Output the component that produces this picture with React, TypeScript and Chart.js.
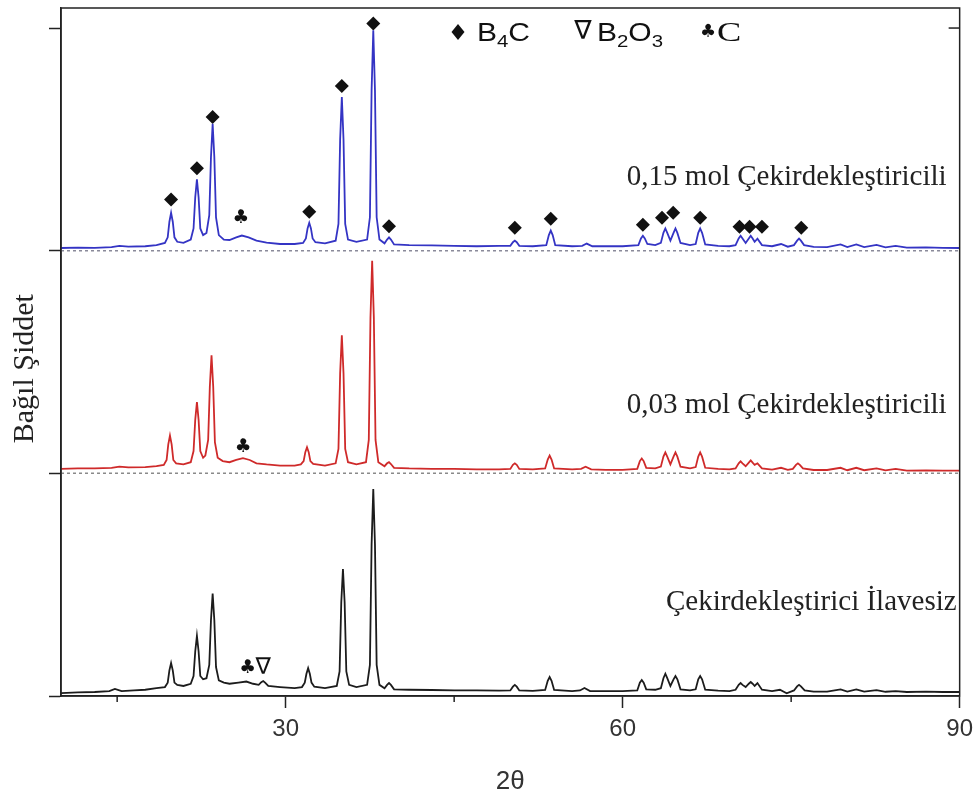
import React, { useEffect, useRef } from "react";
import { Chart, registerables } from "chart.js";
Chart.register(...registerables);

// ---- axis ticks ----
const X_TICKS = [15, 30, 45, 60, 75, 90];
const X_LABELED = [30, 60, 90];
const Y_TICKS = [0, 1, 2, 3];

// ---- vertical offsets of the stacked patterns ----
const OFFSET_BLACK = 0;
const OFFSET_RED = 1;
const OFFSET_BLUE = 2;

// ---- XRD patterns: [2θ, relative intensity above own baseline] ----
const blueSeries: [number, number][] = [
  [10, 0.012], [11.5, 0.014], [13, 0.013], [14.5, 0.016], [15.2, 0.022], [16, 0.018], [17.5, 0.02], [18.5, 0.025],
  [19.25, 0.035], [19.5, 0.06], [19.65, 0.13], [19.8, 0.17], [19.95, 0.13], [20.1, 0.06], [20.35, 0.04],
  [20.9, 0.035], [21.55, 0.05], [21.8, 0.1], [21.95, 0.24], [22.1, 0.32], [22.25, 0.24], [22.4, 0.1], [22.65, 0.07],
  [22.95, 0.08], [23.2, 0.16], [23.35, 0.42], [23.5, 0.57], [23.65, 0.42], [23.8, 0.15], [24.05, 0.07],
  [24.5, 0.05], [25.0, 0.048], [25.6, 0.06], [26.1, 0.068], [26.7, 0.06], [27.4, 0.045], [28.3, 0.036], [29.5, 0.03], [30.8, 0.03],
  [31.55, 0.035], [31.8, 0.055], [31.95, 0.1], [32.1, 0.125], [32.25, 0.1], [32.4, 0.055], [32.65, 0.038],
  [33.5, 0.033], [34.45, 0.045], [34.7, 0.12], [34.85, 0.5], [35.0, 0.69], [35.15, 0.5], [35.3, 0.12], [35.55, 0.05],
  [36.3, 0.04], [37.25, 0.05], [37.5, 0.15], [37.65, 0.72], [37.8, 0.99], [37.95, 0.72], [38.1, 0.15], [38.35, 0.05],
  [38.8, 0.033], [39.03, 0.05], [39.2, 0.06], [39.37, 0.05], [39.65, 0.028],
  [41, 0.025], [43, 0.024], [45, 0.022], [47, 0.02], [49, 0.022],
  [50.0, 0.022], [50.23, 0.038], [50.4, 0.045], [50.57, 0.038], [50.8, 0.022],
  [52, 0.02], [53.2, 0.025], [53.43, 0.07], [53.6, 0.09], [53.77, 0.07], [54.0, 0.025],
  [55.5, 0.02], [56.4, 0.022], [56.8, 0.032], [57.3, 0.02], [58.5, 0.02], [60, 0.02],
  [61.4, 0.025], [61.63, 0.055], [61.8, 0.067], [61.97, 0.055], [62.2, 0.03],
  [62.9, 0.025], [63.4, 0.035], [63.63, 0.08], [63.8, 0.1], [63.97, 0.08], [64.25, 0.045], [64.53, 0.08], [64.7, 0.1], [64.87, 0.08], [65.15, 0.035],
  [66.0, 0.025], [66.5, 0.03], [66.73, 0.08], [66.9, 0.1], [67.07, 0.08], [67.35, 0.028],
  [68.5, 0.022], [69.5, 0.02], [70.05, 0.025], [70.33, 0.055], [70.5, 0.067], [70.67, 0.055], [70.95, 0.035], [71.23, 0.055], [71.4, 0.067], [71.57, 0.055], [71.75, 0.04], [72.0, 0.054], [72.4, 0.025],
  [73.3, 0.02], [74.1, 0.03], [74.7, 0.018], [75.25, 0.025], [75.53, 0.045], [75.7, 0.054], [75.87, 0.045], [76.15, 0.025],
  [77, 0.017], [78.2, 0.016], [79.4, 0.028], [80, 0.016], [80.8, 0.028], [81.5, 0.016], [82.6, 0.026], [83.4, 0.015], [84.3, 0.022], [85.3, 0.014], [87, 0.015], [88.5, 0.013], [90, 0.012],
];

const redSeries: [number, number][] = [
  [10, 0.02], [11.5, 0.022], [13, 0.022], [14.5, 0.025], [15.2, 0.03], [16, 0.027], [17.5, 0.028], [18.5, 0.032],
  [19.15, 0.038], [19.4, 0.06], [19.55, 0.13], [19.7, 0.17], [19.85, 0.13], [20.0, 0.06], [20.25, 0.045],
  [20.9, 0.04], [21.55, 0.05], [21.8, 0.1], [21.95, 0.24], [22.1, 0.32], [22.25, 0.24], [22.4, 0.1], [22.65, 0.07],
  [22.85, 0.08], [23.1, 0.15], [23.25, 0.39], [23.4, 0.53], [23.55, 0.39], [23.7, 0.14], [23.95, 0.07],
  [24.4, 0.055], [25.0, 0.05], [25.6, 0.06], [26.2, 0.068], [26.8, 0.06], [27.4, 0.045], [28.3, 0.04], [29.5, 0.035], [30.8, 0.035],
  [31.35, 0.04], [31.6, 0.055], [31.75, 0.095], [31.9, 0.117], [32.05, 0.095], [32.2, 0.055], [32.45, 0.042],
  [33.5, 0.035], [34.45, 0.045], [34.7, 0.11], [34.85, 0.45], [35.0, 0.62], [35.15, 0.45], [35.3, 0.11], [35.55, 0.05],
  [36.3, 0.04], [37.15, 0.05], [37.4, 0.15], [37.55, 0.7], [37.7, 0.955], [37.85, 0.7], [38.0, 0.15], [38.25, 0.05],
  [38.8, 0.032], [39.03, 0.045], [39.2, 0.05], [39.37, 0.042], [39.65, 0.025],
  [41, 0.022], [43, 0.02], [45, 0.02], [47, 0.018], [49, 0.018],
  [50.0, 0.02], [50.23, 0.038], [50.4, 0.045], [50.57, 0.038], [50.8, 0.02],
  [52, 0.018], [53.1, 0.022], [53.33, 0.062], [53.5, 0.08], [53.67, 0.062], [53.9, 0.022],
  [55.5, 0.018], [56.3, 0.02], [56.7, 0.03], [57.2, 0.018], [58.5, 0.016], [60, 0.016],
  [61.3, 0.02], [61.53, 0.055], [61.7, 0.067], [61.87, 0.055], [62.1, 0.025],
  [62.9, 0.022], [63.4, 0.03], [63.63, 0.075], [63.8, 0.094], [63.97, 0.075], [64.25, 0.04], [64.53, 0.075], [64.7, 0.094], [64.87, 0.075], [65.15, 0.03],
  [66.0, 0.022], [66.5, 0.028], [66.73, 0.075], [66.9, 0.094], [67.07, 0.075], [67.35, 0.025],
  [68.5, 0.02], [69.5, 0.018], [70.05, 0.022], [70.33, 0.045], [70.5, 0.054], [70.67, 0.045], [70.95, 0.032], [71.23, 0.048], [71.4, 0.058], [71.57, 0.048], [71.75, 0.038], [72.0, 0.045], [72.4, 0.022],
  [73.3, 0.017], [74.1, 0.025], [74.7, 0.016], [75.15, 0.02], [75.43, 0.038], [75.6, 0.045], [75.77, 0.038], [76.05, 0.022],
  [77, 0.015], [78.2, 0.015], [79.4, 0.025], [80, 0.014], [80.8, 0.025], [81.5, 0.014], [82.6, 0.022], [83.4, 0.013], [84.3, 0.02], [85.3, 0.012], [87, 0.013], [88.5, 0.012], [90, 0.012],
];

const blackSeries: [number, number][] = [
  [10, 0.013], [11.5, 0.016], [13, 0.018], [14.3, 0.022], [14.8, 0.032], [15.4, 0.022], [16.5, 0.025], [17.5, 0.028], [18.5, 0.035],
  [19.25, 0.04], [19.5, 0.06], [19.65, 0.115], [19.8, 0.148], [19.95, 0.115], [20.1, 0.06], [20.35, 0.05],
  [20.9, 0.045], [21.55, 0.055], [21.8, 0.09], [21.95, 0.2], [22.1, 0.27], [22.25, 0.2], [22.4, 0.09], [22.65, 0.075],
  [22.95, 0.08], [23.2, 0.14], [23.35, 0.34], [23.5, 0.46], [23.65, 0.34], [23.8, 0.13], [24.05, 0.07],
  [24.5, 0.06], [25.0, 0.055], [25.8, 0.06], [26.5, 0.065], [27.1, 0.055], [27.6, 0.05], [27.83, 0.062], [28.0, 0.067], [28.17, 0.06], [28.45, 0.045],
  [29.5, 0.04], [30.8, 0.035], [31.45, 0.04], [31.7, 0.06], [31.85, 0.1], [32.0, 0.125], [32.15, 0.1], [32.3, 0.06], [32.55, 0.042],
  [33.5, 0.035], [34.55, 0.045], [34.8, 0.11], [34.95, 0.42], [35.1, 0.57], [35.25, 0.42], [35.4, 0.11], [35.65, 0.05],
  [36.3, 0.04], [37.25, 0.05], [37.5, 0.14], [37.65, 0.68], [37.8, 0.93], [37.95, 0.68], [38.1, 0.14], [38.35, 0.05],
  [38.8, 0.035], [39.03, 0.05], [39.2, 0.058], [39.37, 0.05], [39.65, 0.03],
  [41, 0.028], [43, 0.027], [45, 0.025], [47, 0.025], [49, 0.024],
  [50.0, 0.025], [50.23, 0.042], [50.4, 0.05], [50.57, 0.042], [50.8, 0.025],
  [52, 0.023], [53.1, 0.027], [53.33, 0.068], [53.5, 0.085], [53.67, 0.068], [53.9, 0.027],
  [55.5, 0.022], [56.2, 0.025], [56.6, 0.036], [57.1, 0.022], [58.5, 0.022], [60, 0.022],
  [61.3, 0.025], [61.53, 0.06], [61.7, 0.072], [61.87, 0.06], [62.1, 0.03],
  [62.9, 0.028], [63.4, 0.035], [63.63, 0.08], [63.8, 0.1], [63.97, 0.08], [64.25, 0.045], [64.53, 0.075], [64.7, 0.09], [64.87, 0.075], [65.15, 0.03],
  [66.0, 0.025], [66.5, 0.03], [66.73, 0.075], [66.9, 0.09], [67.07, 0.075], [67.35, 0.028],
  [68.5, 0.024], [69.5, 0.022], [70.05, 0.028], [70.33, 0.05], [70.5, 0.058], [70.67, 0.05], [70.95, 0.04], [71.23, 0.055], [71.4, 0.063], [71.57, 0.055], [71.75, 0.045], [72.0, 0.058], [72.4, 0.028],
  [73.3, 0.022], [74.0, 0.028], [74.6, 0.012], [75.25, 0.025], [75.53, 0.043], [75.7, 0.05], [75.87, 0.043], [76.2, 0.025],
  [77, 0.02], [78.2, 0.02], [79.4, 0.03], [80, 0.02], [80.8, 0.03], [81.5, 0.02], [82.6, 0.026], [83.4, 0.019], [84.3, 0.022], [85.3, 0.018], [87, 0.02], [88.5, 0.018], [90, 0.018],
];

// ---- phase markers: [2θ, y] ----
const b4cMarkers: [number, number][] = [
  [19.8, 2.23], [22.1, 2.37], [23.5, 2.6], [32.1, 2.175], [35.0, 2.74], [37.8, 3.02], [39.2, 2.11],
  [50.4, 2.103], [53.6, 2.144], [61.8, 2.117], [63.5, 2.148], [64.5, 2.17], [66.9, 2.148],
  [70.4, 2.108], [71.3, 2.108], [72.4, 2.108], [75.9, 2.103],
];
const carbonMarkers: [number, number][] = [[26.0, 2.145], [26.2, 1.117], [26.6, 0.126]];
const b2o3Markers: [number, number][] = [[28.0, 0.126]];

// ---- texts ----
const SAMPLE_LABELS = ["0,15 mol Çekirdekleştiricili", "0,03 mol Çekirdekleştiricili", "Çekirdekleştirici İlavesiz"];
const X_TITLE = "2θ";
const Y_TITLE = "Bağıl Şiddet";

const toPoints = (s: [number, number][], off: number) => s.map(([x, y]) => ({ x, y: y + off }));

const decorPlugin = {
  id: "decor",
  afterDatasetsDraw(chart: any) {
    const { ctx, chartArea: a, scales } = chart;
    const xs = scales.x;
    const ys = scales.y;
    ctx.save();
    // frame
    ctx.strokeStyle = "#222";
    ctx.lineWidth = 1.5;
    ctx.strokeRect(a.left, a.top, a.right - a.left, a.bottom - a.top);
    // minor x ticks
    X_TICKS.filter((v) => !X_LABELED.includes(v)).forEach((v) => {
      const px = xs.getPixelForValue(v);
      ctx.beginPath();
      ctx.moveTo(px, a.bottom);
      ctx.lineTo(px, a.bottom + 6);
      ctx.stroke();
    });
    // right inward tick
    const py3 = ys.getPixelForValue(3);
    ctx.beginPath();
    ctx.moveTo(a.right - 11, py3);
    ctx.lineTo(a.right, py3);
    ctx.stroke();

    // y-axis title
    ctx.save();
    ctx.fillStyle = "#222";
    ctx.font = "30px 'Liberation Serif'";
    ctx.textAlign = "center";
    ctx.textBaseline = "middle";
    ctx.translate(25, ys.getPixelForValue(1.47));
    ctx.rotate(-Math.PI / 2);
    ctx.fillText(Y_TITLE, 0, 0);
    ctx.restore();

    // clubs / nabla annotations
    ctx.fillStyle = "#111";
    ctx.textAlign = "center";
    ctx.textBaseline = "middle";
    ctx.font = "19px 'DejaVu Sans'";
    carbonMarkers.forEach(([x, y]) => ctx.fillText("♣", xs.getPixelForValue(x), ys.getPixelForValue(y)));
    ctx.font = "23px 'DejaVu Sans'";
    b2o3Markers.forEach(([x, y]) => ctx.fillText("∇", xs.getPixelForValue(x), ys.getPixelForValue(y)));

    // sample labels (right aligned)
    ctx.fillStyle = "#222";
    ctx.textAlign = "right";
    ctx.textBaseline = "middle";
    ctx.font = "29px 'Liberation Serif'";
    const labelPos: [number, number][] = [[88.84, 2.33], [88.84, 1.305], [89.73, 0.42]];
    SAMPLE_LABELS.forEach((t, i) => {
      ctx.fillText(t, xs.getPixelForValue(labelPos[i][0]), ys.getPixelForValue(labelPos[i][1]));
    });

    // legend
    const ly = a.top + 24;
    const drawScaled = (text: string, x: number, y: number, font: string, sx: number) => {
      ctx.save();
      ctx.font = font;
      ctx.translate(x, y);
      ctx.scale(sx, 1);
      ctx.textAlign = "left";
      ctx.textBaseline = "alphabetic";
      ctx.fillText(text, 0, 0);
      const w = ctx.measureText(text).width * sx;
      ctx.restore();
      return w;
    };
    ctx.fillStyle = "#111";
    const dx = a.left + 397;
    ctx.beginPath();
    ctx.moveTo(dx - 6.5, ly);
    ctx.lineTo(dx, ly - 8);
    ctx.lineTo(dx + 6.5, ly);
    ctx.lineTo(dx, ly + 8);
    ctx.closePath();
    ctx.fill();
    const base = ly + 9;
    const big = "25px 'Liberation Sans'";
    const sub = "17px 'Liberation Sans'";
    const sx = 1.2;
    let cx = a.left + 416;
    cx += drawScaled("B", cx, base, big, sx);
    cx += drawScaled("4", cx, base + 6, sub, sx);
    cx += drawScaled("C", cx, base, big, sx);
    ctx.font = "26px 'DejaVu Sans'";
    ctx.textAlign = "center";
    ctx.textBaseline = "middle";
    ctx.fillText("∇", a.left + 522, ly);
    cx = a.left + 536;
    cx += drawScaled("B", cx, base, big, sx);
    cx += drawScaled("2", cx, base + 6, sub, sx);
    cx += drawScaled("O", cx, base, big, sx);
    cx += drawScaled("3", cx, base + 6, sub, sx);
    ctx.font = "18px 'DejaVu Sans'";
    ctx.textAlign = "center";
    ctx.textBaseline = "middle";
    ctx.fillText("♣", a.left + 647, ly);
    drawScaled("C", a.left + 656, base, "28px 'Liberation Serif'", 1.3);
    ctx.restore();
  },
};

export default function App() {
  const ref = useRef<HTMLCanvasElement | null>(null);
  useEffect(() => {
    if (!ref.current) return;
    const dash = (v: number) => [{ x: 10, y: v }, { x: 90, y: v }];
    const chart = new Chart(ref.current, {
      type: "line",
      data: {
        datasets: [
          { data: dash(OFFSET_RED), borderColor: "#8a8a8a", borderWidth: 1.5, borderDash: [3, 3], pointRadius: 0 },
          { data: dash(OFFSET_BLUE), borderColor: "#8a8a9a", borderWidth: 1.5, borderDash: [3, 3], pointRadius: 0 },
          { label: "black", data: toPoints(blackSeries, OFFSET_BLACK), borderColor: "#1c1c1c", borderWidth: 1.8, pointRadius: 0 },
          { label: "red", data: toPoints(redSeries, OFFSET_RED), borderColor: "#cf2a2a", borderWidth: 1.8, pointRadius: 0 },
          { label: "blue", data: toPoints(blueSeries, OFFSET_BLUE), borderColor: "#3434c4", borderWidth: 1.8, pointRadius: 0 },
          {
            type: "scatter" as any,
            label: "B4C",
            data: b4cMarkers.map(([x, y]) => ({ x, y })),
            pointStyle: "rectRot",
            pointRadius: 7,
            backgroundColor: "#111",
            borderColor: "#111",
            borderWidth: 0,
            showLine: false,
          },
        ],
      },
      options: {
        responsive: false,
        animation: false,
        devicePixelRatio: 1,
        layout: { padding: { top: 8, right: 19, left: 0, bottom: 0 } },
        plugins: { legend: { display: false }, tooltip: { enabled: false } },
        elements: { line: { tension: 0 } },
        scales: {
          x: {
            type: "linear",
            min: 10,
            max: 90,
            afterBuildTicks: (s: any) => {
              s.ticks = X_TICKS.map((v) => ({ value: v }));
            },
            ticks: {
              callback: (v: any) => (X_LABELED.includes(Number(v)) ? String(v) : ""),
              font: { family: "'Liberation Sans'", size: 24 },
              color: "#333",
              padding: 7,
              maxRotation: 0,
              autoSkip: false,
            },
            grid: {
              drawOnChartArea: false,
              drawTicks: true,
              tickLength: 12,
              tickWidth: 1.5,
              tickColor: (c: any) => (c.tick && X_LABELED.includes(c.tick.value) ? "#222" : "rgba(0,0,0,0)"),
            },
            border: { display: true, color: "#222", width: 1.5 },
            title: {
              display: true,
              text: X_TITLE,
              font: { family: "'Liberation Sans'", size: 26 },
              color: "#333",
              padding: { top: 0, bottom: -4 },
            },
            afterFit: (s: any) => {
              s.height = 97;
            },
          },
          y: {
            type: "linear",
            min: 0,
            max: 3.09,
            afterBuildTicks: (s: any) => {
              s.ticks = Y_TICKS.map((v) => ({ value: v }));
            },
            ticks: { display: false },
            grid: { drawOnChartArea: false, drawTicks: true, tickLength: 12, tickWidth: 1.5, tickColor: "#222" },
            border: { display: true, color: "#222", width: 1.5 },
            title: { display: false },
            afterFit: (s: any) => {
              s.width = 61;
            },
          },
        },
      },
      plugins: [decorPlugin],
    });
    return () => chart.destroy();
  }, []);
  return (
    <div style={{ position: "absolute", left: 0, top: 0, width: 980, height: 793, background: "#fff" }}>
      <canvas ref={ref} width={980} height={793} style={{ width: 980, height: 793 }} />
    </div>
  );
}
